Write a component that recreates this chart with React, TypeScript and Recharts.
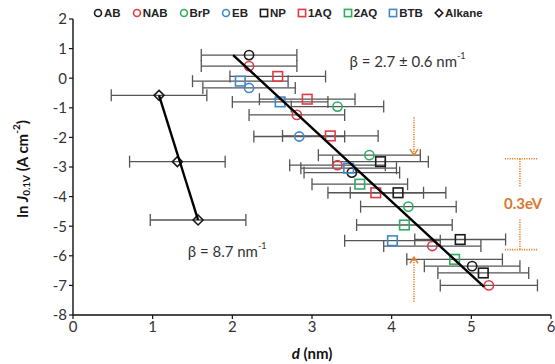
import {
  ScatterChart,
  Scatter,
  XAxis,
  YAxis,
  ErrorBar,
  ReferenceLine,
  ReferenceDot,
} from 'recharts'

// d (nm), ln J (A cm^-2), horizontal error (nm)
const abPoints = [
  { d: 2.21, lnJ: 0.78, xerr: 0.6 },
  { d: 3.5, lnJ: -3.19, xerr: 0.6 },
  { d: 5.01, lnJ: -6.35, xerr: 0.6 },
]
const nabPoints = [
  { d: 2.21, lnJ: 0.41, xerr: 0.6 },
  { d: 2.81, lnJ: -1.24, xerr: 0.6 },
  { d: 3.32, lnJ: -2.94, xerr: 0.6 },
  { d: 4.51, lnJ: -5.67, xerr: 0.61 },
  { d: 5.22, lnJ: -7.0, xerr: 0.61 },
]
const brpPoints = [
  { d: 3.32, lnJ: -0.96, xerr: 0.58 },
  { d: 3.72, lnJ: -2.6, xerr: 0.64 },
  { d: 4.21, lnJ: -4.34, xerr: 0.6 },
]
const ebPoints = [
  { d: 2.21, lnJ: -0.33, xerr: 0.58 },
  { d: 2.84, lnJ: -1.97, xerr: 0.57 },
]
const npPoints = [
  { d: 3.86, lnJ: -2.82, xerr: 0.6 },
  { d: 4.08, lnJ: -3.87, xerr: 0.6 },
  { d: 4.86, lnJ: -5.45, xerr: 0.57 },
  { d: 5.15, lnJ: -6.58, xerr: 0.57 },
]
const aq1Points = [
  { d: 2.57, lnJ: 0.06, xerr: 0.6 },
  { d: 2.94, lnJ: -0.71, xerr: 0.6 },
  { d: 3.23, lnJ: -1.95, xerr: 0.6 },
  { d: 3.8, lnJ: -3.87, xerr: 0.6 },
]
const aq2Points = [
  { d: 3.6, lnJ: -3.58, xerr: 0.6 },
  { d: 4.16, lnJ: -4.96, xerr: 0.6 },
  { d: 4.79, lnJ: -6.12, xerr: 0.6 },
]
const btbPoints = [
  { d: 2.1, lnJ: -0.1, xerr: 0.6 },
  { d: 2.6, lnJ: -0.8, xerr: 0.6 },
  { d: 3.46, lnJ: -3.04, xerr: 0.6 },
  { d: 4.01, lnJ: -5.49, xerr: 0.6 },
]
const alkanePoints = [
  { d: 1.08, lnJ: -0.58, xerr: 0.6 },
  { d: 1.31, lnJ: -2.82, xerr: 0.6 },
  { d: 1.57, lnJ: -4.79, xerr: 0.6 },
]

// fitted lines (end points)
const mainFit = [
  { d: 2.01, lnJ: 0.78 },
  { d: 5.16, lnJ: -7.05 },
]
const alkaneFit = [
  { d: 1.08, lnJ: -0.58 },
  { d: 1.57, lnJ: -4.79 },
]

const xTicks = [0, 1, 2, 3, 4, 5, 6]
const yTicks = [-8, -7, -6, -5, -4, -3, -2, -1, 0, 1, 2]

const BLACK = '#1a1a1a'
const RED = '#e23a45'
const GREEN = '#2fae60'
const BLUE = '#3f88cc'
const ORANGE = '#e8842e'
const FONT = 'Lato, "Open Sans", sans-serif'

type Marker = 'circle' | 'square' | 'diamond'

const series: { name: string; data: any[]; color: string; marker: Marker }[] = [
  { name: 'AB', data: abPoints, color: BLACK, marker: 'circle' },
  { name: 'NAB', data: nabPoints, color: RED, marker: 'circle' },
  { name: 'BrP', data: brpPoints, color: GREEN, marker: 'circle' },
  { name: 'EB', data: ebPoints, color: BLUE, marker: 'circle' },
  { name: 'NP', data: npPoints, color: BLACK, marker: 'square' },
  { name: '1AQ', data: aq1Points, color: RED, marker: 'square' },
  { name: '2AQ', data: aq2Points, color: GREEN, marker: 'square' },
  { name: 'BTB', data: btbPoints, color: BLUE, marker: 'square' },
  { name: 'Alkane', data: alkanePoints, color: BLACK, marker: 'diamond' },
]

function MarkerShape({ cx, cy, color, marker, size = 1 }: any) {
  if (marker === 'circle') {
    return <circle cx={cx} cy={cy} r={4.6 * size} fill="#fff" fillOpacity={0} stroke={color} strokeWidth={1.6} />
  }
  if (marker === 'square') {
    const h = 4.8 * size
    return <rect x={cx - h} y={cy - h} width={h * 2} height={h * 2} fill="none" stroke={color} strokeWidth={1.6} />
  }
  const h = 5 * size
  return (
    <polygon
      points={`${cx},${cy - h} ${cx + h},${cy} ${cx},${cy + h} ${cx - h},${cy}`}
      fill="none"
      stroke={color}
      strokeWidth={1.6}
    />
  )
}

function LegendRow() {
  return (
    <div
      style={{
        position: 'absolute',
        left: 93,
        top: 6,
        display: 'flex',
        gap: 11,
        fontFamily: '"Liberation Sans", Arial, sans-serif',
        fontWeight: 700,
        fontSize: 11.5,
        color: '#222',
        lineHeight: '14px',
      }}
    >
      {series.map((s) => (
        <div key={s.name} style={{ display: 'flex', alignItems: 'center', gap: 1 }}>
          <svg width={10} height={10}>
            <MarkerShape cx={5} cy={5} color={s.color} marker={s.marker} size={0.75} />
          </svg>
          <span>{s.name}</span>
        </div>
      ))}
    </div>
  )
}

function YTitle({ viewBox }: any) {
  const cx = 22
  const cy = viewBox.y + viewBox.height / 2 + 2
  return (
    <text
      x={cx}
      y={cy}
      transform={`rotate(-90, ${cx}, ${cy})`}
      textAnchor="middle"
      dominantBaseline="central"
      fontFamily={FONT}
      fontWeight={700}
      fontSize={15}
      fill="#111"
    >
      <tspan>ln </tspan>
      <tspan fontStyle="italic">J</tspan>
      <tspan dy={4} fontSize={10}>0.1V</tspan>
      <tspan dy={-4}> (A cm</tspan>
      <tspan dy={-6} fontSize={10}>-2</tspan>
      <tspan dy={6}>)</tspan>
    </text>
  )
}

function XTitle({ viewBox }: any) {
  const cx = viewBox.x + viewBox.width / 2
  return (
    <text x={cx} y={353} textAnchor="middle" dominantBaseline="central" fontFamily={FONT} fontWeight={700} fontSize={15} fill="#111">
      <tspan fontStyle="italic">d</tspan>
      <tspan> (nm)</tspan>
    </text>
  )
}

function BetaText({ cx, cy, value }: any) {
  return (
    <text x={cx} y={cy} dominantBaseline="central" fontFamily={FONT} fontSize={15} fill="#333">
      <tspan>{`\u03b2 = ${value} nm`}</tspan>
      <tspan dy={-6} fontSize={9}>-1</tspan>
    </text>
  )
}

function ArrowHead({ cx, cy, up }: any) {
  const s = up ? 1 : -1
  return (
    <polyline
      points={`${cx - 4},${cy + s * 6} ${cx},${cy} ${cx + 4},${cy + s * 6}`}
      fill="none"
      stroke={ORANGE}
      strokeWidth={1.6}
    />
  )
}

const dotted = { stroke: ORANGE, strokeWidth: 1.6, strokeDasharray: '1.2 1.2' }

export default function App() {
  return (
    <div style={{ position: 'absolute', left: 0, top: 0, width: 555, height: 364, background: '#fff' }}>
      <ScatterChart width={555} height={364} margin={{ top: 19, right: 4, bottom: 0, left: 0 }}>
        <XAxis
          type="number"
          dataKey="d"
          domain={[0, 6]}
          ticks={xTicks}
          height={49}
          axisLine={{ stroke: '#111', strokeWidth: 1.4 }}
          tickLine={{ stroke: '#111', strokeWidth: 1.2 }}
          tickSize={4}
          tick={{ fontFamily: FONT, fontSize: 15, fill: '#333' }}
          label={<XTitle />}
        />
        <YAxis
          type="number"
          dataKey="lnJ"
          domain={[-8, 2]}
          ticks={yTicks}
          width={73}
          interval={0}
          axisLine={{ stroke: '#111', strokeWidth: 1.4 }}
          tickLine={{ stroke: '#111', strokeWidth: 1.2 }}
          tickSize={4}
          tick={{ fontFamily: FONT, fontSize: 15, fill: '#333' }}
          label={<YTitle />}
        />

        {series.map((s) => (
          <Scatter
            key={s.name}
            name={s.name}
            data={s.data}
            isAnimationActive={false}
            shape={(p: any) => <MarkerShape cx={p.cx} cy={p.cy} color={s.color} marker={s.marker} />}
          >
            <ErrorBar dataKey="xerr" direction="x" width={6} stroke="#555" strokeWidth={1.3} />
          </Scatter>
        ))}

        <Scatter
          data={mainFit}
          isAnimationActive={false}
          line={{ stroke: '#000', strokeWidth: 2.4 }}
          shape={() => <g />}
        />
        <Scatter
          data={alkaneFit}
          isAnimationActive={false}
          line={{ stroke: '#000', strokeWidth: 2.4 }}
          shape={() => <g />}
        />

        {/* 0.3 eV annotation */}
        <ReferenceLine segment={[{ x: 4.28, y: -1.32 }, { x: 4.28, y: -2.6 }]} {...dotted} />
        <ReferenceDot x={4.28} y={-2.6} shape={(p: any) => <ArrowHead cx={p.cx} cy={p.cy} up={false} />} />
        <ReferenceLine segment={[{ x: 4.28, y: -7.55 }, { x: 4.28, y: -6.05 }]} {...dotted} />
        <ReferenceDot x={4.28} y={-6.05} shape={(p: any) => <ArrowHead cx={p.cx} cy={p.cy} up />} />

        <ReferenceLine segment={[{ x: 5.42, y: -2.72 }, { x: 5.84, y: -2.72 }]} {...dotted} />
        <ReferenceLine segment={[{ x: 5.61, y: -2.72 }, { x: 5.61, y: -3.65 }]} {...dotted} />
        <ReferenceLine segment={[{ x: 5.61, y: -4.77 }, { x: 5.61, y: -5.79 }]} {...dotted} />
        <ReferenceLine segment={[{ x: 5.42, y: -5.79 }, { x: 5.84, y: -5.79 }]} {...dotted} />
        <ReferenceDot
          x={5.65}
          y={-4.2}
          shape={(p: any) => (
            <text x={p.cx} y={p.cy} textAnchor="middle" dominantBaseline="central" fontFamily={FONT} fontWeight={700} fontSize={15} fill="#d8782f">
              0.3eV
            </text>
          )}
        />

        <ReferenceDot x={3.47} y={0.57} shape={(p: any) => <BetaText cx={p.cx} cy={p.cy} value="2.7 ± 0.6" />} />
        <ReferenceDot x={1.44} y={-5.84} shape={(p: any) => <BetaText cx={p.cx} cy={p.cy} value="8.7" />} />
      </ScatterChart>
      <LegendRow />
    </div>
  )
}
